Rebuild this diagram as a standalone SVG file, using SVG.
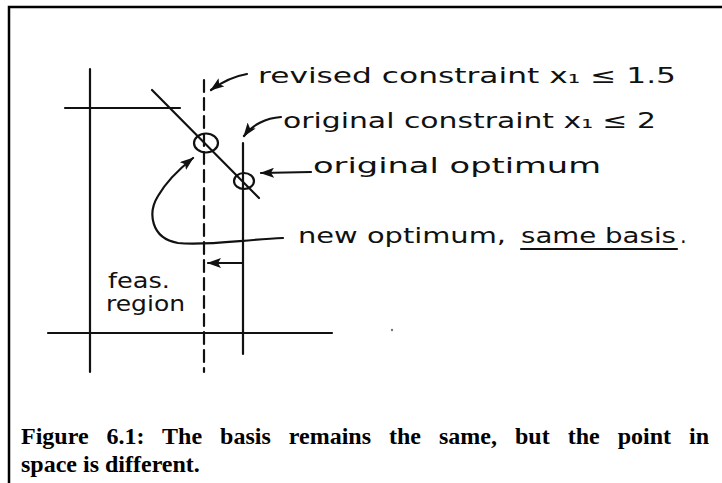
<svg xmlns="http://www.w3.org/2000/svg" width="722" height="483" viewBox="0 0 722 483">
<style>
.ink{stroke:#111;stroke-width:2.2;fill:none;stroke-linecap:round}
.hand{font-family:"DejaVu Sans",sans-serif;font-size:21px;fill:#111}
.cap{font-family:"Liberation Serif",serif;font-weight:bold;font-size:24px;fill:#000}
</style>
<defs>
<marker id="ah" viewBox="0 0 14 10" refX="13" refY="5" markerWidth="14" markerHeight="10" markerUnits="userSpaceOnUse" orient="auto">
<path d="M0,0 L14,5 L0,10 L3,5 Z" fill="#111"/>
</marker>
</defs>
<rect width="722" height="483" fill="#fff"/>
<path d="M9,483 V7 H722" fill="none" stroke="#000" stroke-width="2.5"/>
<g id="axes">
<line class="ink" x1="90" y1="69" x2="90" y2="372"/>
<line class="ink" x1="48" y1="333" x2="332" y2="333"/>
<line class="ink" x1="65" y1="108" x2="180" y2="108" stroke-width="1.6"/>
</g>
<g id="revised-constraint">
<line class="ink" x1="204" y1="80" x2="204" y2="372" stroke-dasharray="12 6"/>
</g>
<g id="original-constraint">
<line class="ink" x1="243" y1="143" x2="243" y2="354"/>
</g>
<g id="objective-line">
<line class="ink" x1="152" y1="90" x2="259" y2="198"/>
</g>
<g id="new-optimum">
<ellipse class="ink" cx="206" cy="143" rx="12" ry="9.5"/>
</g>
<g id="original-optimum">
<ellipse class="ink" cx="244" cy="181" rx="10" ry="8"/>
</g>
<g id="connectors">
<path class="ink" d="M247,74 C235,76 222,82 211,90" marker-end="url(#ah)"/>
<path class="ink" d="M281,117 C266,118 252,125 244,136" marker-end="url(#ah)"/>
<path class="ink" d="M311,172 L261,173" marker-end="url(#ah)"/>
<path class="ink" d="M283,238 C240,240 205,246 178,243 C150,238 148,212 158,196 C166,182 178,170 193,158" marker-end="url(#ah)"/>
<path class="ink" d="M242,263 L208,263" marker-end="url(#ah)"/>
</g>
<g id="labels">
<text class="hand" x="258" y="83" textLength="418" lengthAdjust="spacingAndGlyphs">revised constraint x₁ ≤ 1.5</text>
<text class="hand" x="283" y="128" textLength="373" lengthAdjust="spacingAndGlyphs">original constraint x₁ ≤ 2</text>
<text class="hand" x="313" y="173" textLength="288" lengthAdjust="spacingAndGlyphs">original optimum</text>
<text class="hand" x="298" y="243" textLength="208" lengthAdjust="spacingAndGlyphs">new optimum,</text>
<text class="hand" x="521" y="243" textLength="155" lengthAdjust="spacingAndGlyphs">same basis</text>
<text class="hand" x="680" y="243">.</text>
<line class="ink" x1="521" y1="249" x2="677" y2="249"/>
<text class="hand" x="108" y="288" textLength="62" lengthAdjust="spacingAndGlyphs">feas.</text>
<text class="hand" x="106" y="311" textLength="79" lengthAdjust="spacingAndGlyphs">region</text>
</g>
<circle cx="392" cy="330" r="1.2" fill="#777"/>
<g id="caption">
<text class="cap" x="21" y="444" word-spacing="12">Figure 6.1: The basis remains the same, but the point in</text>
<text class="cap" x="21" y="472">space is different.</text>
</g>
</svg>
